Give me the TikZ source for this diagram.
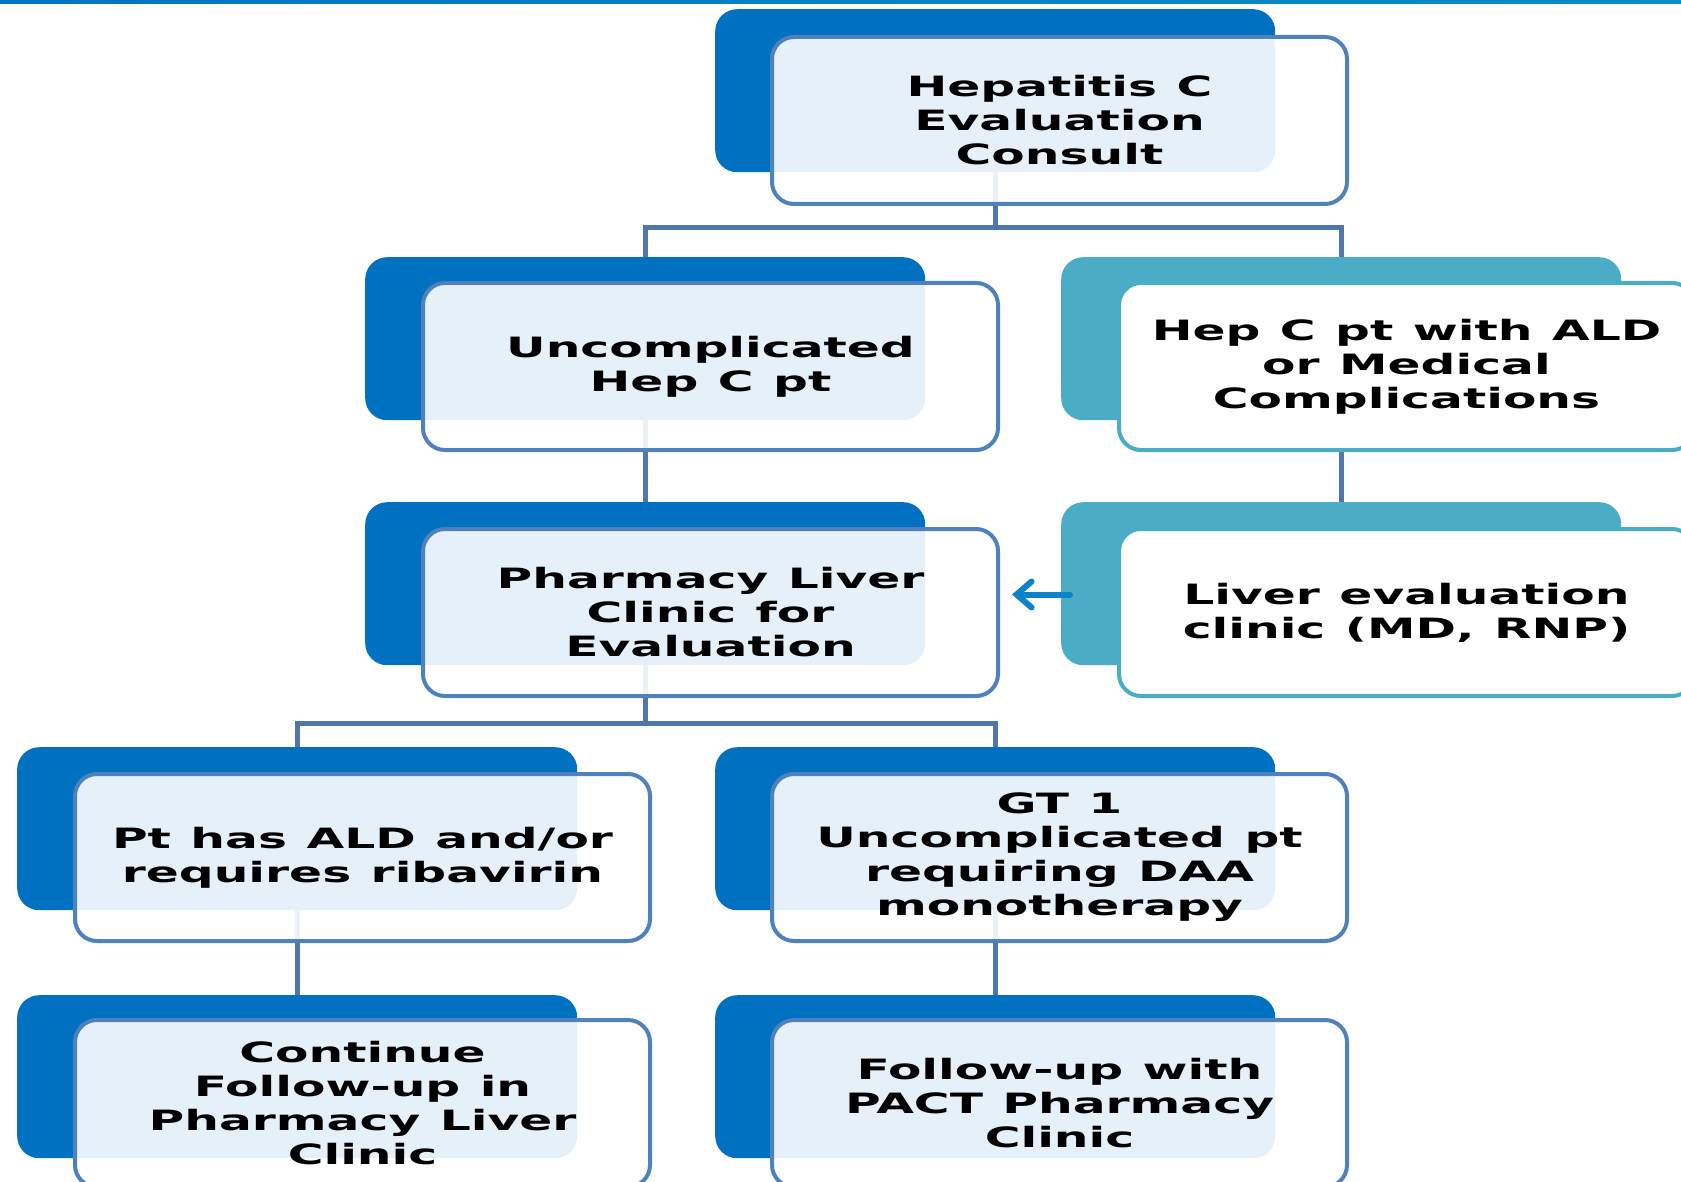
\documentclass[tikz,border=0pt]{standalone}
\usepackage{fontspec}
\newfontfamily\boxfont{DejaVu Sans}[FakeStretch=1.74,WordSpace=1.15]
\usetikzlibrary{arrows.meta}

\definecolor{darkblue}{RGB}{0,112,192}
\definecolor{tealfill}{RGB}{75,172,198}
\definecolor{frameblue}{RGB}{79,129,189}
\definecolor{linkblue}{RGB}{80,118,172}
\definecolor{arrowblue}{RGB}{12,130,200}
\definecolor{barblue}{RGB}{10,140,200}

\tikzset{
  backblue/.style={fill=darkblue, rounded corners=22pt, minimum width=560pt,
    minimum height=163pt, inner sep=0pt, anchor=north west},
  backteal/.style={backblue, fill=tealfill},
  frontblue/.style={draw=frameblue, line width=4pt, fill=white, fill opacity=0.9,
    text opacity=1, rounded corners=22pt, minimum width=575pt, minimum height=167pt,
    inner sep=0pt, anchor=north west, align=center,
    font=\boxfont\bfseries\fontsize{28}{34}\selectfont},
  frontteal/.style={frontblue, draw=tealfill, fill opacity=1},
  link/.style={draw=linkblue, line width=5pt},
  feedback/.style={draw=arrowblue, line width=6pt, line cap=round,
    -{Straight Barb[length=15pt,width=26pt,line cap=round]}},
}

\begin{document}
\begin{tikzpicture}[x=1pt,y=-1pt]
\useasboundingbox (0,0) rectangle (1681,1182);
\clip (0,0) rectangle (1681,1182);
\fill[white] (0,0) rectangle (1681,1182);

% header rule
\fill[left color=darkblue!80!barblue, right color=barblue] (0,0) rectangle (1681,4);

% back panels
\node[backblue] (b1) at (715,9) {};
\node[backblue] (b2) at (365,257) {};
\node[backteal] (b3) at (1061,257) {};
\node[backblue] (b4) at (365,502) {};
\node[backteal] (b5) at (1061,502) {};
\node[backblue] (b6) at (17,747) {};
\node[backblue] (b7) at (715,747) {};
\node[backblue] (b8) at (17,995) {};
\node[backblue] (b9) at (715,995) {};

% tree connectors
\draw[link] (b1.south) -- ++(0,55) coordinate (j1);
\draw[link] (j1) -| (b2.north);
\draw[link] (j1) -| (b3.north);
\draw[link] (b2.south) -- (b4.north);
\draw[link] (b3.south) -- (b5.north);
\draw[link] (b4.south) -- ++(0,58) coordinate (j2);
\draw[link] (j2) -| (b6.north);
\draw[link] (j2) -| (b7.north);
\draw[link] (b6.south) -- (b8.north);
\draw[link] (b7.south) -- (b9.north);

% front panels
\node[frontblue] (f1) at (770,35) {Hepatitis C\\Evaluation\\Consult};
\node[frontblue] (f2) at (421,281) {Uncomplicated\\Hep C pt};
\node[frontteal] (f3) at (1117,281) {Hep C pt with ALD\\or Medical\\Complications};
\node[frontblue] (f4) at (421,527) {Pharmacy Liver\\Clinic for\\Evaluation};
\node[frontteal] (f5) at (1117,527) {Liver evaluation\\clinic (MD, RNP)};
\node[frontblue] (f6) at (73,772) {Pt has ALD and/or\\requires ribavirin};
\node[frontblue] (f7) at (770,772) {GT 1\\Uncomplicated pt\\requiring DAA\\monotherapy};
\node[frontblue] (f8) at (73,1018) {Continue\\Follow-up in\\Pharmacy Liver\\Clinic};
\node[frontblue] (f9) at (770,1018) {Follow-up with\\PACT Pharmacy\\Clinic};

% referral back to the pharmacy clinic
\coordinate (a0) at ([xshift=9pt,yshift=18pt]b5.west |- f5.west);
\draw[feedback, shorten >=12pt] (a0) -- (a0 -| f4.east);
\end{tikzpicture}
\end{document}
